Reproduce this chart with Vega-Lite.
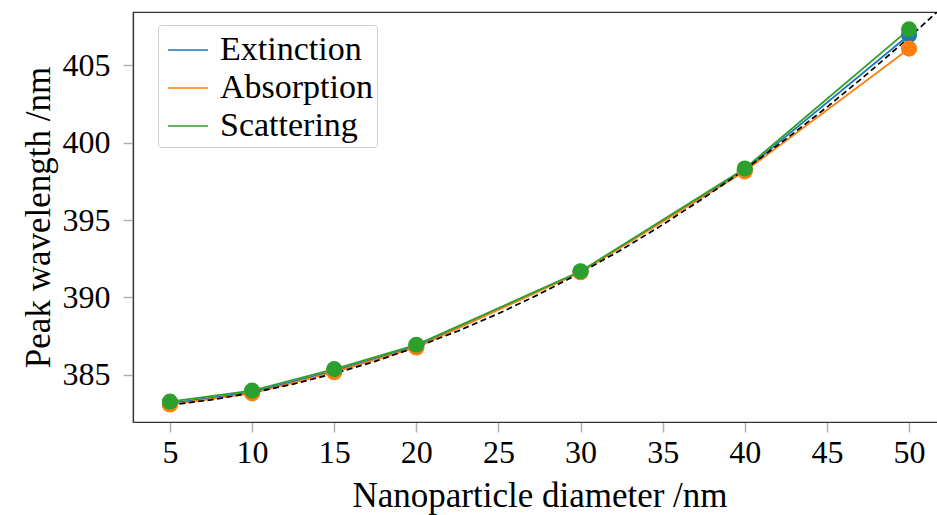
{
  "$schema": "https://vega.github.io/schema/vega-lite/v6.json",
  "autosize": "none",
  "padding": {"left": 133, "top": 12, "right": 0, "bottom": 93},
  "width": 813,
  "height": 410,
  "background": "white",
  "config": {
    "font": "Liberation Serif",
    "view": {"stroke": "#333333", "strokeWidth": 1.2},
    "axis": {
      "labelFont": "Liberation Serif",
      "titleFont": "Liberation Serif",
      "labelFontSize": 32,
      "titleFontSize": 35,
      "titleFontWeight": "normal",
      "labelColor": "#000000",
      "titleColor": "#000000",
      "grid": false,
      "domainColor": "#333333",
      "domainWidth": 1.2,
      "tickColor": "#b0b0b0",
      "tickWidth": 1.5,
      "tickSize": 10
    },
    "legend": {
      "labelFont": "Liberation Serif",
      "labelFontSize": 34,
      "labelColor": "#000000",
      "labelLimit": 400
    }
  },
  "datasets": {
    "peaks": [
      {"d": 5, "w": 383.15, "s": "Extinction"},
      {"d": 10, "w": 383.88, "s": "Extinction"},
      {"d": 15, "w": 385.25, "s": "Extinction"},
      {"d": 20, "w": 386.84, "s": "Extinction"},
      {"d": 30, "w": 391.66, "s": "Extinction"},
      {"d": 40, "w": 398.22, "s": "Extinction"},
      {"d": 50, "w": 406.96, "s": "Extinction"},
      {"d": 5, "w": 383.08, "s": "Absorption"},
      {"d": 10, "w": 383.8, "s": "Absorption"},
      {"d": 15, "w": 385.17, "s": "Absorption"},
      {"d": 20, "w": 386.77, "s": "Absorption"},
      {"d": 30, "w": 391.63, "s": "Absorption"},
      {"d": 40, "w": 398.15, "s": "Absorption"},
      {"d": 50, "w": 406.08, "s": "Absorption"},
      {"d": 5, "w": 383.27, "s": "Scattering"},
      {"d": 10, "w": 383.98, "s": "Scattering"},
      {"d": 15, "w": 385.37, "s": "Scattering"},
      {"d": 20, "w": 386.94, "s": "Scattering"},
      {"d": 30, "w": 391.69, "s": "Scattering"},
      {"d": 40, "w": 398.33, "s": "Scattering"},
      {"d": 50, "w": 407.33, "s": "Scattering"}
    ],
    "fit": [
      {"d": 5, "w": 383.05},
      {"d": 7.5, "w": 383.38},
      {"d": 10, "w": 383.83},
      {"d": 12.5, "w": 384.4},
      {"d": 15, "w": 385.08},
      {"d": 17.5, "w": 385.87},
      {"d": 20, "w": 386.79},
      {"d": 22.5, "w": 387.82},
      {"d": 25, "w": 388.96},
      {"d": 27.5, "w": 390.22},
      {"d": 30, "w": 391.6},
      {"d": 32.5, "w": 393.09},
      {"d": 35, "w": 394.7},
      {"d": 37.5, "w": 396.43},
      {"d": 40, "w": 398.27},
      {"d": 42.5, "w": 400.23},
      {"d": 45, "w": 402.3},
      {"d": 47.5, "w": 404.49},
      {"d": 50, "w": 406.8},
      {"d": 52.5, "w": 409.22}
    ]
  },
  "encoding": {
    "x": {
      "field": "d",
      "type": "quantitative",
      "scale": {"domain": [2.75, 52.25], "nice": false, "zero": false},
      "axis": {
        "title": "Nanoparticle diameter /nm",
        "values": [5, 10, 15, 20, 25, 30, 35, 40, 45, 50],
        "labelPadding": 5,
        "titlePadding": 10
      }
    },
    "y": {
      "field": "w",
      "type": "quantitative",
      "scale": {"domain": [381.95, 408.45], "nice": false, "zero": false},
      "axis": {
        "title": "Peak wavelength /nm",
        "values": [385, 390, 395, 400, 405],
        "labelPadding": 13,
        "titlePadding": 6
      }
    }
  },
  "layer": [
    {
      "data": {"name": "peaks"},
      "mark": {"type": "line", "strokeWidth": 1.8, "clip": true},
      "encoding": {
        "color": {
          "field": "s",
          "type": "nominal",
          "sort": ["Extinction", "Absorption", "Scattering"],
          "scale": {"domain": ["Extinction", "Absorption", "Scattering"], "range": ["#1f77b4", "#ff7f0e", "#2ca02c"]},
          "legend": {
            "title": null,
            "orient": "none",
            "legendX": 25,
            "legendY": 13,
            "symbolType": "stroke",
            "symbolSize": 1600,
            "symbolStrokeWidth": 1.5,
            "symbolOffset": 5,
            "labelOffset": 11,
            "padding": 4,
            "rowPadding": -2.5,
            "strokeColor": "#cccccc",
            "fillColor": "rgba(255,255,255,0.85)",
            "cornerRadius": 3
          }
        },
        "detail": {"field": "s"}
      }
    },
    {
      "data": {"name": "fit"},
      "mark": {"type": "line", "color": "#000000", "strokeWidth": 1.7, "strokeDash": [6, 3.5], "clip": true},
      "encoding": {}
    },
    {
      "data": {"name": "peaks"},
      "mark": {"type": "point", "filled": true, "opacity": 1, "size": 260, "clip": true},
      "encoding": {
        "color": {
          "field": "s",
          "type": "nominal",
          "scale": {"domain": ["Extinction", "Absorption", "Scattering"], "range": ["#1f77b4", "#ff7f0e", "#2ca02c"]},
          "legend": null
        }
      }
    }
  ]
}
